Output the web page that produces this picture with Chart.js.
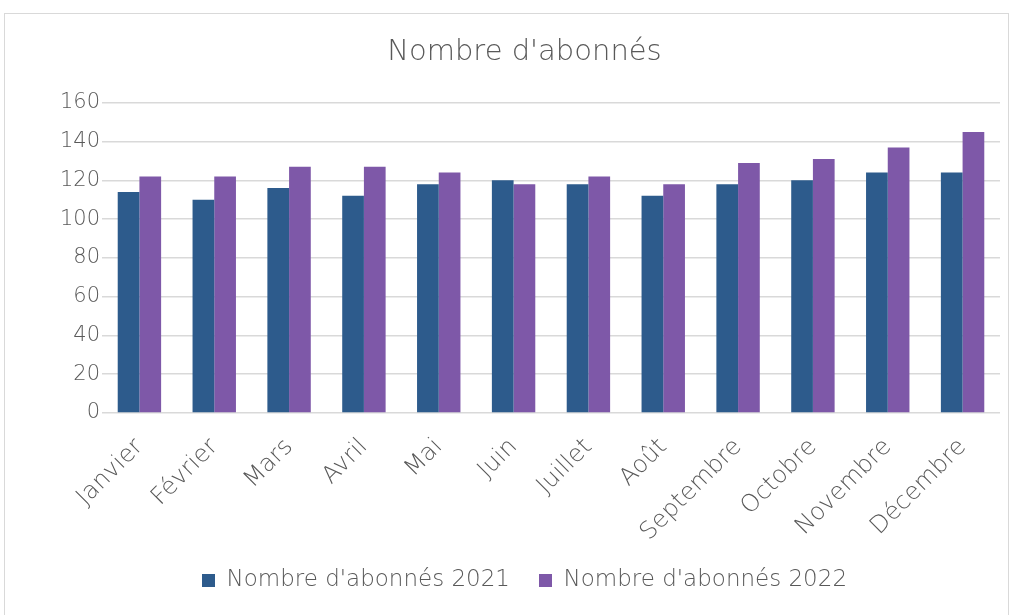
<!DOCTYPE html>
<html>
<head>
<meta charset="utf-8">
<script src="https://cdn.jsdelivr.net/npm/chart.js@4"></script>
<style>
html,body{margin:0;padding:0;background:#fff;overflow:hidden;}
#frame{position:absolute;left:4px;top:13px;width:1005px;height:610px;border:1px solid #d9d9d9;box-sizing:border-box;background:#fff;}
#c{position:absolute;left:0;top:0;}
</style>
</head>
<body>
<div id="frame"><canvas id="c" width="1003" height="608"></canvas></div>
<script>
const categories = ["Janvier","Février","Mars","Avril","Mai","Juin","Juillet","Août","Septembre","Octobre","Novembre","Décembre"];
const abonnes2021 = [114,110,116,112,118,120,118,112,118,120,124,124];
const abonnes2022 = [122,122,127,127,124,118,122,118,129,131,137,145];
const yTicks = [0,20,40,60,80,100,120,140,160];
const FONT = "'DejaVu Sans',sans-serif";
const textColor = '#595959';

new Chart(document.getElementById('c'), {
  type: 'bar',
  data: {
    labels: categories,
    datasets: [
      {label: "Nombre d'abonnés 2021", data: abonnes2021, backgroundColor: '#2D5B8C', borderWidth: 0, categoryPercentage: 0.58, barPercentage: 1},
      {label: "Nombre d'abonnés 2022", data: abonnes2022, backgroundColor: '#7E58A8', borderWidth: 0, categoryPercentage: 0.58, barPercentage: 1}
    ]
  },
  options: {
    responsive: false,
    animation: false,
    layout: {padding: {left: 44, right: 8, top: 0, bottom: 20}},
    plugins: {
      title: {display: true, text: "Nombre d'abonnés", color: textColor, font: {family: FONT, size: 29, weight: 200}, padding: {top: 21, bottom: 33}},
      legend: {position: 'bottom', labels: {color: textColor, font: {family: FONT, size: 23, weight: 200}, boxWidth: 13, boxHeight: 13, padding: 29}},
      tooltip: {enabled: false}
    },
    scales: {
      x: {
        grid: {display: false, drawTicks: false},
        border: {display: false},
        ticks: {color: textColor, font: {family: FONT, size: 24, weight: 200}, minRotation: 45, maxRotation: 45, padding: 20},
        afterFit: s => { s.height = 127; }
      },
      y: {
        min: 0, max: 160,
        afterBuildTicks: s => { s.ticks = yTicks.map(v => ({value: v})); },
        grid: {color: '#d9d9d9', lineWidth: 1.5, drawTicks: false},
        border: {display: false},
        ticks: {color: textColor, font: {family: FONT, size: 21, weight: 200}, padding: 2},
        afterFit: s => { s.width = 53; }
      }
    }
  }
});
</script>
</body>
</html>
